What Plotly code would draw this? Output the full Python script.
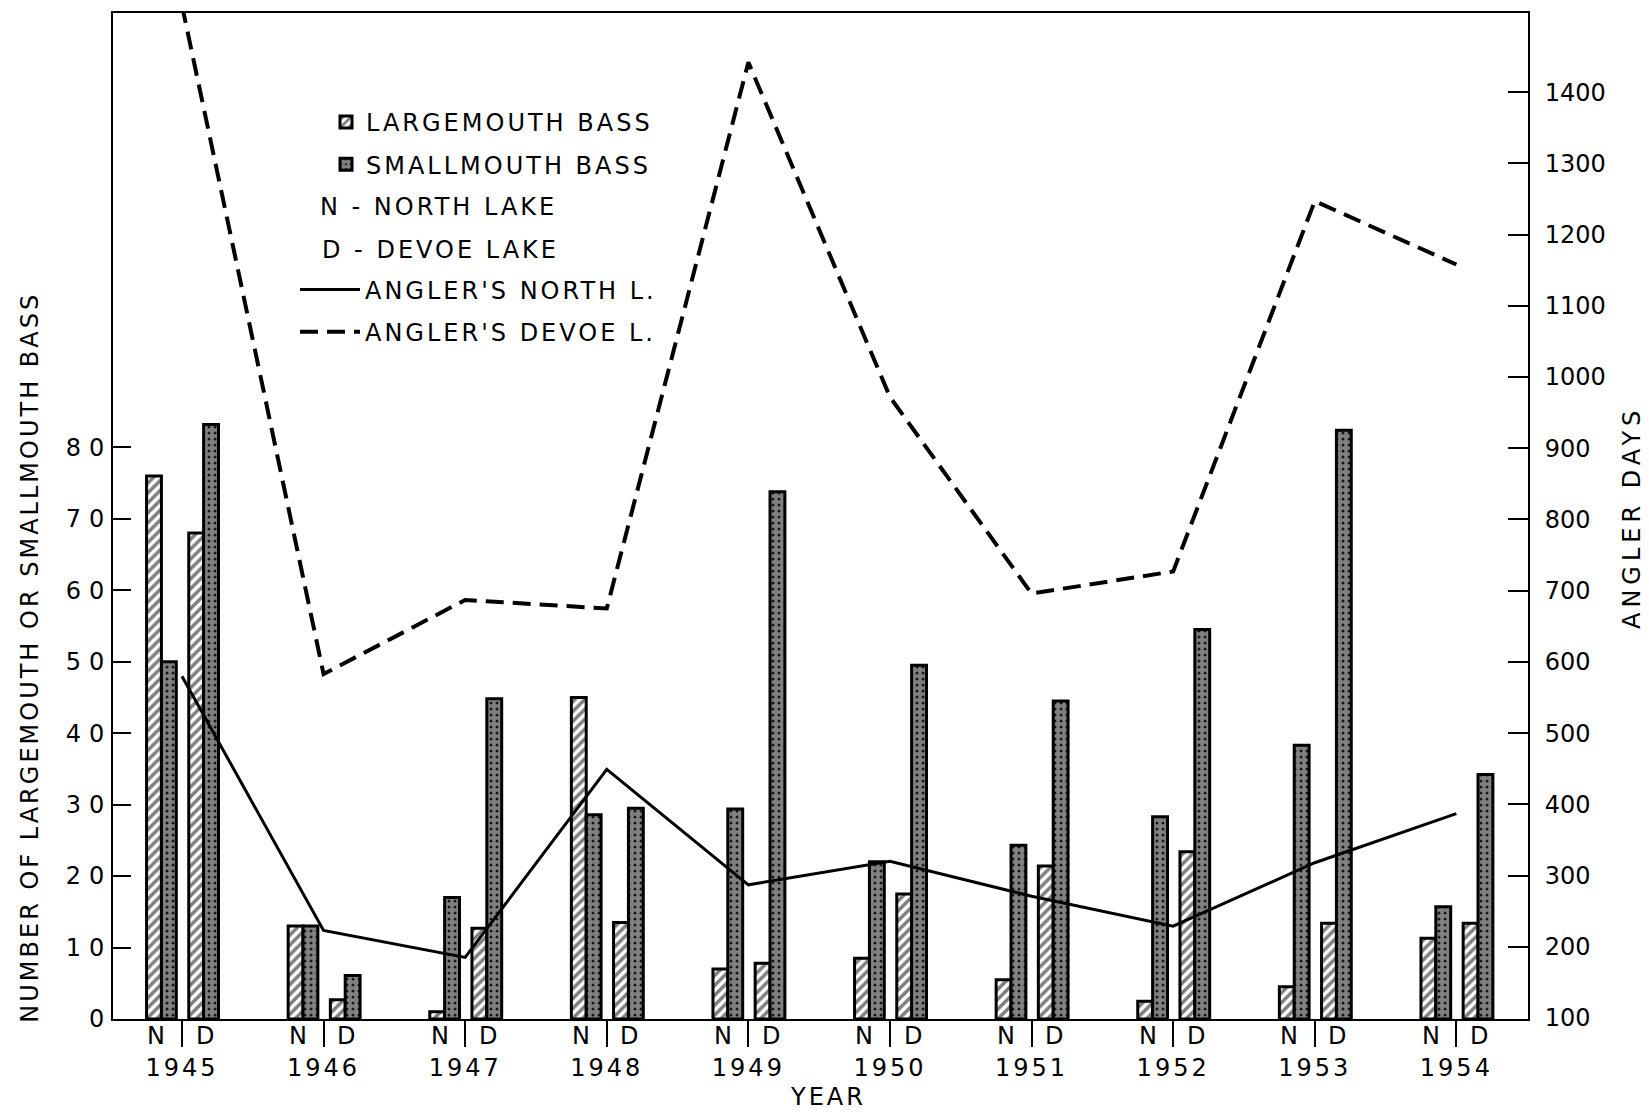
import plotly.graph_objects as go

years = [1945, 1946, 1947, 1948, 1949, 1950, 1951, 1952, 1953, 1954]
year_labels = [str(y) for y in years]

# Number of bass (left axis)
lm_north = [76, 13, 1, 45, 7, 8.5, 5.5, 2.5, 4.5, 11.3]
sm_north = [50, 13, 17, 28.6, 29.4, 22, 24.3, 28.3, 38.3, 15.7]
lm_devoe = [68, 2.7, 12.7, 13.5, 7.8, 17.5, 21.4, 23.4, 13.4, 13.4]
sm_devoe = [83.2, 6.1, 44.8, 29.5, 73.8, 49.5, 44.5, 54.5, 82.4, 34.2]

# Angler days (right axis)
anglers_north = [580, 223, 185, 449, 287, 320, 271, 229, 318, 387]
anglers_devoe = [1522, 583, 687, 675, 1442, 972, 696, 727, 1247, 1158]

left_ticks = [0, 10, 20, 30, 40, 50, 60, 70, 80]
right_ticks = [100, 200, 300, 400, 500, 600, 700, 800, 900, 1000, 1100, 1200, 1300, 1400]

FONT = "DejaVu Sans"
BW = 0.105
W, H = 1649, 1112
ML, MR, MT, MB = 113, 121, 11, 93
PW, PH = W - ML - MR, H - MT - MB


def px(x):
    return (x - ML) / PW


def py(y):
    return (H - MB - y) / PH


def spaced(text, sp):
    return '<span style="letter-spacing:%dpx">%s</span>' % (sp, text)


lm_pattern = dict(shape="/", fgcolor="black", bgcolor="white", size=7, solidity=0.5)
sm_pattern = dict(shape=".", fgcolor="white", bgcolor="black", size=6, solidity=0.8)
OUT = dict(color="black", width=3)

fig = go.Figure()

fig.add_trace(go.Bar(x=years, y=lm_north, offset=-0.25, width=BW, name=spaced("LARGEMOUTH BASS", 3),
                     marker=dict(color="white", pattern=lm_pattern, line=OUT),
                     legendgroup="lm", legend="legend"))
fig.add_trace(go.Bar(x=years, y=sm_north, offset=-0.145, width=BW, name=spaced("SMALLMOUTH BASS", 3),
                     marker=dict(color="black", pattern=sm_pattern, line=OUT),
                     legendgroup="sm", legend="legend"))
fig.add_trace(go.Bar(x=years, y=lm_devoe, offset=0.048, width=BW, name="LARGEMOUTH BASS",
                     marker=dict(color="white", pattern=lm_pattern, line=OUT),
                     legendgroup="lm", showlegend=False))
fig.add_trace(go.Bar(x=years, y=sm_devoe, offset=0.153, width=BW, name="SMALLMOUTH BASS",
                     marker=dict(color="black", pattern=sm_pattern, line=OUT),
                     legendgroup="sm", showlegend=False))

fig.add_trace(go.Scatter(x=years, y=anglers_north, yaxis="y2", mode="lines",
                         name=spaced("ANGLER'S NORTH L.", 3),
                         line=dict(color="black", width=3), legend="legend2", legendgroup="an"))
fig.add_trace(go.Scatter(x=years, y=anglers_devoe, yaxis="y2", mode="lines",
                         name=spaced("ANGLER'S DEVOE L.", 3),
                         line=dict(color="black", width=4, dash="18px,9px"), legend="legend2", legendgroup="ad"))

TF = dict(family=FONT, size=24, color="black")
ann = []
for yv in years:
    ann.append(dict(x=yv - 0.18, y=py(1036), xref="x", yref="paper", text="N", showarrow=False,
                    font=TF, xanchor="center", yanchor="middle"))
    ann.append(dict(x=yv + 0.16, y=py(1036), xref="x", yref="paper", text="D", showarrow=False,
                    font=TF, xanchor="center", yanchor="middle"))

ann += [
    dict(x=px(318), y=py(205), xref="paper", yref="paper", text=spaced("N - NORTH LAKE", 3), showarrow=False,
         font=TF, xanchor="left", yanchor="middle"),
    dict(x=px(320), y=py(248), xref="paper", yref="paper", text=spaced("D - DEVOE LAKE", 3), showarrow=False,
         font=TF, xanchor="left", yanchor="middle"),
    dict(x=px(30), y=py(657), xref="paper", yref="paper",
         text=spaced("NUMBER OF LARGEMOUTH OR SMALLMOUTH BASS", 3),
         showarrow=False, textangle=-90, font=TF, xanchor="center", yanchor="middle"),
    dict(x=px(1632), y=py(516), xref="paper", yref="paper", text=spaced("ANGLER DAYS", 5),
         showarrow=False, textangle=-90, font=TF, xanchor="center", yanchor="middle"),
    dict(x=px(828), y=py(1097), xref="paper", yref="paper", text=spaced("YEAR", 3),
         showarrow=False, font=TF, xanchor="center", yanchor="middle"),
]

fig.update_layout(
    width=W, height=H,
    margin=dict(l=ML, r=MR, t=MT, b=MB),
    paper_bgcolor="white", plot_bgcolor="white",
    barmode="overlay",
    font=dict(family=FONT, size=24, color="black"),
    xaxis=dict(range=[1944.513, 1954.506], tickvals=years,
               ticktext=[spaced(t, 3) for t in year_labels],
               ticks="outside", ticklen=26, tickwidth=2, tickcolor="black",
               showline=True, linecolor="black", linewidth=2, mirror=True,
               showgrid=False, zeroline=False, ticklabelstandoff=0,
               tickfont=dict(family=FONT, size=24, color="black")),
    yaxis=dict(range=[0, PH / 7.16], tickvals=left_ticks,
               ticktext=[spaced(str(v), 8) for v in left_ticks],
               ticks="inside", ticklen=18, tickwidth=2, tickcolor="black",
               showline=True, linecolor="black", linewidth=2,
               showgrid=False, zeroline=False, ticklabelstandoff=-6,
               tickfont=dict(family=FONT, size=24, color="black")),
    yaxis2=dict(range=[98.6, 98.6 + PH / 0.7136], overlaying="y", side="right",
                tickvals=right_ticks, ticktext=[str(v) for v in right_ticks],
                ticks="inside", ticklen=20, tickwidth=2, tickcolor="black",
                showline=True, linecolor="black", linewidth=2,
                showgrid=False, zeroline=False, ticklabelstandoff=10,
                tickfont=dict(family=FONT, size=24, color="black")),
    legend=dict(x=px(326), y=py(98), xanchor="left", yanchor="top", bgcolor="rgba(0,0,0,0)",
                traceorder="grouped", tracegroupgap=8, itemwidth=30,
                font=dict(family=FONT, size=24, color="black")),
    legend2=dict(x=px(295), y=py(266), xanchor="left", yanchor="top", bgcolor="rgba(0,0,0,0)",
                 traceorder="grouped", tracegroupgap=8, itemwidth=60,
                 font=dict(family=FONT, size=24, color="black")),
    annotations=ann,
)

fig.write_html("out.html")
